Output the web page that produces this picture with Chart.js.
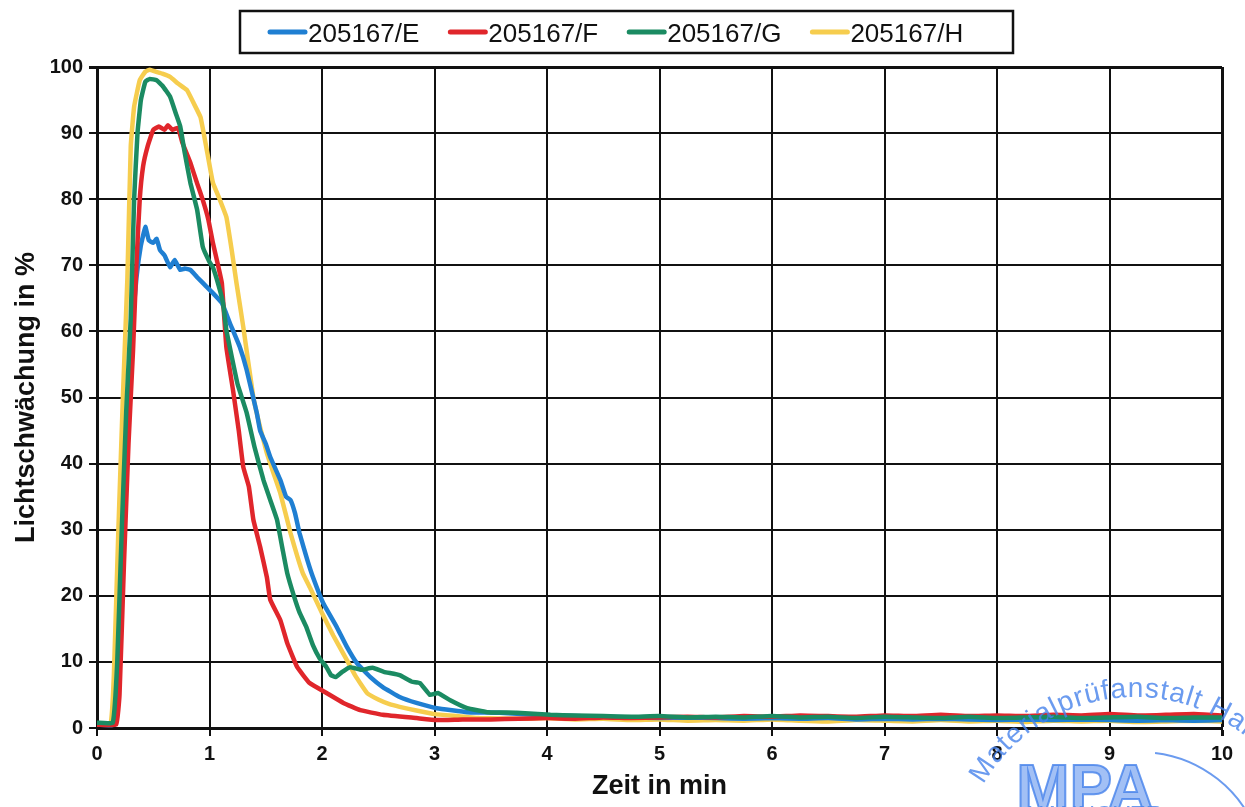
<!DOCTYPE html>
<html>
<head>
<meta charset="utf-8">
<script src="https://cdn.jsdelivr.net/npm/chart.js@4.4.0/dist/chart.umd.min.js"></script>
<style>
  html, body { margin: 0; padding: 0; background: #fff; }
  #wrap { width: 1245px; height: 807px; }
</style>
</head>
<body>
<div id="wrap"><canvas id="chart" width="1245" height="807"></canvas></div>
<script>
// Lichtschwächung (%) über Zeit (min)
const labels = ['205167/E', '205167/F', '205167/G', '205167/H'];
const colors = ['#1f7fd2', '#e0262b', '#1b8b62', '#f6cd4e'];

const timeE = [0, 0.15, 0.19, 0.23, 0.27, 0.31, 0.35, 0.39, 0.43, 0.46, 0.5, 0.53, 0.56, 0.6, 0.65, 0.69, 0.74, 0.78, 0.83, 0.89, 0.96, 1.03, 1.11, 1.18, 1.27, 1.33, 1.42, 1.45, 1.5, 1.54, 1.63, 1.68, 1.72, 1.76, 1.8, 1.87, 1.92, 2.01, 2.13, 2.22, 2.31, 2.43, 2.54, 2.69, 2.84, 3.02, 3.29, 3.58, 3.88, 4.0, 4.25, 4.5, 4.75, 5.0, 5.25, 5.5, 5.75, 6.0, 6.25, 6.5, 6.75, 7.0, 7.25, 7.5, 7.75, 8.0, 8.25, 8.5, 8.75, 9.0, 9.25, 9.5, 9.75, 10];
const lichtE = [0.5, 0.5, 10, 30, 48, 60, 68, 73, 75.8, 73.8, 73.4, 74, 72.3, 71.5, 69.7, 70.8, 69.3, 69.5, 69.3, 68.2, 67, 65.8, 64.3, 61.3, 57.6, 54.2, 47.7, 45, 43, 41, 37.5, 35, 34.5, 32.5, 29.5, 25.4, 22.8, 18.9, 15.3, 12.3, 9.8, 7.7, 6.2, 4.7, 3.8, 3.0, 2.4, 2.3, 2.0, 1.9, 1.8, 1.7, 1.6, 1.5, 1.6, 1.5, 1.4, 1.5, 1.4, 1.5, 1.3, 1.4, 1.3, 1.4, 1.3, 1.2, 1.3, 1.2, 1.3, 1.2, 1.1, 1.2, 1.1, 1.2];

const timeF = [0, 0.17, 0.2, 0.24, 0.28, 0.32, 0.35, 0.38, 0.41, 0.45, 0.5, 0.55, 0.6, 0.63, 0.67, 0.72, 0.76, 0.83, 0.89, 0.94, 0.99, 1.03, 1.08, 1.11, 1.15, 1.21, 1.26, 1.3, 1.35, 1.39, 1.45, 1.51, 1.54, 1.63, 1.69, 1.78, 1.89, 2.04, 2.19, 2.34, 2.54, 2.84, 3.02, 3.25, 3.5, 3.75, 4.0, 4.25, 4.5, 4.75, 5.0, 5.25, 5.5, 5.75, 6.0, 6.25, 6.5, 6.75, 7.0, 7.25, 7.5, 7.75, 8.0, 8.25, 8.5, 8.75, 9.0, 9.25, 9.5, 9.75, 10];
const lichtF = [0.5, 0.5, 5, 25, 43, 57, 70, 80, 85, 88, 90.5, 91, 90.5, 91.2, 90.5, 90.8, 88.5, 85.5, 82.4, 79.9, 76.9, 73.4, 69.7, 67.3, 57.6, 51, 45, 39.5, 36.5, 31.5, 27.4, 22.8, 19.4, 16.3, 12.9, 9.2, 6.8, 5.3, 3.8, 2.7, 2.0, 1.5, 1.2, 1.3, 1.3, 1.4, 1.5, 1.4, 1.6, 1.5, 1.6, 1.7, 1.6, 1.8, 1.7, 1.9, 1.8, 1.7, 1.9, 1.8, 2.0, 1.8, 1.9, 1.8, 2.0, 1.9, 2.1, 1.9, 2.0, 2.1, 1.9];

const timeG = [0, 0.14, 0.18, 0.22, 0.26, 0.3, 0.33, 0.36, 0.39, 0.43, 0.47, 0.53, 0.58, 0.65, 0.7, 0.74, 0.78, 0.83, 0.89, 0.94, 1.0, 1.03, 1.08, 1.12, 1.15, 1.2, 1.25, 1.33, 1.4, 1.48, 1.55, 1.6, 1.65, 1.69, 1.75, 1.8, 1.86, 1.92, 1.98, 2.04, 2.08, 2.12, 2.18, 2.25, 2.35, 2.45, 2.55, 2.69, 2.8, 2.87, 2.96, 3.03, 3.14, 3.29, 3.47, 3.73, 4.03, 4.25, 4.5, 4.75, 5.0, 5.25, 5.5, 5.75, 6.0, 6.25, 6.5, 6.75, 7.0, 7.25, 7.5, 7.75, 8.0, 8.25, 8.5, 8.75, 9.0, 9.25, 9.5, 9.75, 10];
const lichtG = [0.8, 0.8, 10, 30, 48, 62, 80, 90, 95, 97.8, 98.2, 98, 97.2, 95.5, 93, 91, 87, 82.5, 78.4, 72.8, 70.5, 69.7, 67, 64.3, 60.2, 56, 52, 47.7, 42.5, 37.5, 34, 31.5, 27, 23.5, 20, 17.5, 15.3, 12.5, 10.5, 9.2, 8.0, 7.7, 8.5, 9.2, 8.8, 9.1, 8.5, 8.0, 7.0, 6.8, 5.0, 5.3, 4.2, 3.0, 2.4, 2.3, 2.0, 1.9, 1.8, 1.7, 1.8, 1.6, 1.7, 1.6, 1.8, 1.6, 1.7, 1.5, 1.7, 1.6, 1.5, 1.7, 1.5, 1.6, 1.7, 1.5, 1.6, 1.7, 1.5, 1.6, 1.6];

const timeH = [0, 0.12, 0.15, 0.19, 0.23, 0.27, 0.3, 0.33, 0.38, 0.43, 0.47, 0.52, 0.58, 0.65, 0.72, 0.8, 0.86, 0.92, 0.97, 1.03, 1.09, 1.15, 1.2, 1.24, 1.3, 1.39, 1.45, 1.51, 1.57, 1.63, 1.72, 1.78, 1.83, 1.9, 2.0, 2.1, 2.22, 2.3, 2.4, 2.5, 2.6, 2.69, 2.85, 3.0, 3.2, 3.4, 3.75, 4.0, 4.25, 4.5, 4.75, 5.0, 5.25, 5.5, 5.75, 6.0, 6.25, 6.5, 6.75, 7.0, 7.25, 7.5, 7.75, 8.0, 8.25, 8.5, 8.75, 9.0, 9.25, 9.5, 9.75, 10];
const lichtH = [0.5, 0.6, 8, 30, 50, 68, 88, 94, 98, 99.3, 99.6, 99.3, 99, 98.5, 97.5, 96.5, 94.5, 92.4, 88, 82.5, 80, 77.3, 72, 67.3, 60.7, 50, 45.5, 41.6, 38.5, 35.5, 29.5, 26, 23.4, 21, 17.4, 14, 10.3, 7.8, 5.3, 4.3, 3.6, 3.2, 2.6, 2.1, 1.8, 1.5, 1.4, 1.5, 1.3, 1.4, 1.2, 1.3, 1.1, 1.2, 1.1, 1.3, 1.1, 1.0, 1.2, 1.1, 1.0, 1.2, 1.0, 1.1, 0.9, 1.1, 1.0, 1.1, 0.9, 1.0, 1.1, 1.0];

const times = [timeE, timeF, timeG, timeH];
const values = [lichtE, lichtF, lichtG, lichtH];
const drawOrder = [2, 1, 0, 3]; // kleinere Zahl = weiter oben

const FONT = '"Liberation Sans", Arial, sans-serif';

// Legende im Rahmen oben
const boxLegend = {
  id: 'boxLegend',
  afterDraw(chart) {
    const ctx = chart.ctx;
    ctx.save();
    ctx.strokeStyle = '#111';
    ctx.lineWidth = 2.5;
    ctx.strokeRect(240, 11, 773, 42);
    ctx.font = '26px ' + FONT;
    ctx.textBaseline = 'alphabetic';
    let x = 268;
    chart.data.datasets.forEach(ds => {
      ctx.strokeStyle = ds.borderColor;
      ctx.lineWidth = 5;
      ctx.lineCap = 'round';
      ctx.beginPath();
      ctx.moveTo(x + 2, 32);
      ctx.lineTo(x + 37, 32);
      ctx.stroke();
      ctx.fillStyle = '#111';
      ctx.fillText(ds.label, x + 40, 42);
      x += 40 + ctx.measureText(ds.label).width + 29;
    });
    ctx.restore();
  }
};

// Stempel unten rechts
const stamp = {
  id: 'stamp',
  afterDraw(chart) {
    const ctx = chart.ctx;
    const cx = 1135, cy = 872, r = 175;
    ctx.save();
    ctx.fillStyle = 'rgba(70,130,235,0.8)';
    ctx.strokeStyle = 'rgba(70,130,235,0.8)';
    ctx.font = '28px ' + FONT;
    ctx.textAlign = 'center';
    ctx.textBaseline = 'alphabetic';
    const text = 'Materialprüfanstalt Hannover';
    let a = -2.62;
    for (const ch of text) {
      const w = ctx.measureText(ch).width;
      a += (w / 2) / r;
      ctx.save();
      ctx.translate(cx + r * Math.cos(a), cy + r * Math.sin(a));
      ctx.rotate(a + Math.PI / 2);
      ctx.fillText(ch, 0, 0);
      ctx.restore();
      a += (w / 2 + 1) / r;
    }
    ctx.lineWidth = 2;
    ctx.beginPath();
    ctx.arc(cx + 5, cy + 5, 125, -1.45, -0.35);
    ctx.stroke();
    ctx.font = 'bold 64px ' + FONT;
    ctx.lineWidth = 2;
    ctx.fillStyle = 'rgba(70,130,235,0.5)';
    ctx.fillText('MPA', 1085, 810);
    ctx.strokeText('MPA', 1085, 810);
    ctx.font = '24px ' + FONT;
    ctx.fillStyle = 'rgba(70,130,235,0.8)';
    ctx.fillText('HANNOVER', 1095, 823);
    ctx.restore();
  }
};

const datasets = labels.map((label, i) => ({
  label,
  data: times[i].map((t, j) => ({ x: t, y: values[i][j] })),
  borderColor: colors[i],
  backgroundColor: colors[i],
  borderWidth: 4.5,
  pointRadius: 0,
  tension: 0.1,
  fill: false,
  order: drawOrder[i]
}));

const gridWidth = edge => ctx => (ctx.tick && ctx.tick.value === edge ? 3 : 2);

new Chart(document.getElementById('chart'), {
  type: 'line',
  data: { datasets },
  options: {
    responsive: false,
    animation: false,
    layout: { padding: { top: 67, right: 23, left: 0, bottom: 0 } },
    plugins: {
      legend: { display: false },
      tooltip: { enabled: false }
    },
    scales: {
      x: {
        type: 'linear',
        min: 0,
        max: 10,
        ticks: { stepSize: 1, color: '#111', font: { family: FONT, size: 20, weight: 'bold' }, padding: 6 },
        grid: { color: '#111', lineWidth: gridWidth(10), tickLength: 8 },
        border: { color: '#111', width: 3 },
        title: { display: true, text: 'Zeit in min', color: '#111', font: { family: FONT, size: 27, weight: 'bold' }, padding: { top: 0, bottom: 4 } },
        afterFit(scale) { scale.height = 79; }
      },
      y: {
        min: 0,
        max: 100,
        ticks: { stepSize: 10, color: '#111', font: { family: FONT, size: 20, weight: 'bold' }, padding: 6 },
        grid: { color: '#111', lineWidth: gridWidth(100), tickLength: 8 },
        border: { color: '#111', width: 3 },
        title: { display: true, text: 'Lichtschwächung in %', color: '#111', font: { family: FONT, size: 27, weight: 'bold' }, padding: { top: 10, bottom: 0 } },
        afterFit(scale) { scale.width = 97; }
      }
    }
  },
  plugins: [boxLegend, stamp]
});
</script>
</body>
</html>
